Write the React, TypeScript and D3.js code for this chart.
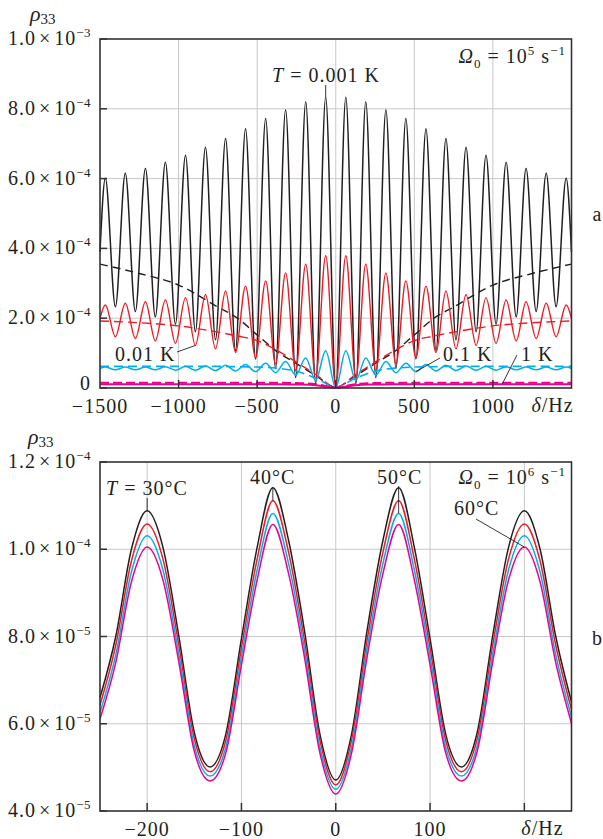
import * as d3 from "d3";

// ---------- panel a: Ω0 = 1e5 s^-1, ρ33 in units of 1e-4 ----------
// detuning of the fringe extrema (Hz), shared by the solid curves
const deltaA = [
  -1500, -1466, -1402, -1339, -1275, -1211, -1148, -1084, -1020, -956, -893, -829, -765,
  -701, -638, -574, -510, -446, -383, -319, -255, -191, -128, -64, 0,
  64, 128, 191, 255, 319, 383, 446, 510, 574, 638, 701, 765, 829, 893, 956,
  1020, 1084, 1148, 1211, 1275, 1339, 1402, 1466, 1500,
];
const rho0001K = [
  3.9, 6.01, 2.33, 6.15, 2.19, 6.29, 2.04, 6.47, 1.83, 6.67, 1.61, 6.9, 1.38,
  7.15, 1.07, 7.43, 0.83, 7.72, 0.56, 7.97, 0.3, 8.2, 0.12, 8.33, 0.02,
  8.33, 0.12, 8.2, 0.3, 7.97, 0.56, 7.72, 0.83, 7.43, 1.07, 7.15, 1.38, 6.9, 1.61, 6.67,
  1.83, 6.47, 2.04, 6.29, 2.19, 6.15, 2.33, 6.01, 3.9,
];
const rho001K = [
  2.0, 2.38, 1.47, 2.43, 1.42, 2.47, 1.35, 2.52, 1.28, 2.59, 1.22, 2.68, 1.12,
  2.78, 1.02, 2.92, 0.87, 3.07, 0.69, 3.3, 0.5, 3.55, 0.28, 3.79, 0.03,
  3.79, 0.28, 3.55, 0.5, 3.3, 0.69, 3.07, 0.87, 2.92, 1.02, 2.78, 1.12, 2.68, 1.22, 2.59,
  1.28, 2.52, 1.35, 2.47, 1.42, 2.43, 1.47, 2.38, 2.0,
];
const rho01K = [
  0.56, 0.6, 0.52, 0.6, 0.52, 0.6, 0.52, 0.61, 0.51, 0.62, 0.51, 0.63, 0.5,
  0.65, 0.49, 0.67, 0.47, 0.71, 0.44, 0.76, 0.37, 0.86, 0.22, 1.07, 0.0,
  1.07, 0.22, 0.86, 0.37, 0.76, 0.44, 0.71, 0.47, 0.67, 0.49, 0.65, 0.5, 0.63, 0.51, 0.62,
  0.51, 0.61, 0.52, 0.6, 0.52, 0.6, 0.52, 0.6, 0.56,
];
// smooth (dashed) averages and the 1 K curve
const deltaAvg = [-1500, -1250, -1000, -750, -625, -500, -375, -250, -125, 0, 125, 250, 375, 500, 625, 750, 1000, 1250, 1500];
const avg0001K = [3.55, 3.28, 2.95, 2.32, 2.0, 1.52, 1.05, 0.7, 0.35, 0.02, 0.35, 0.7, 1.05, 1.52, 2.0, 2.32, 2.95, 3.28, 3.55];
const avg001K = [1.92, 1.87, 1.78, 1.6, 1.49, 1.36, 1.08, 0.74, 0.38, 0.02, 0.38, 0.74, 1.08, 1.36, 1.49, 1.6, 1.78, 1.87, 1.92];
const avg01K = [0.62, 0.62, 0.62, 0.62, 0.61, 0.6, 0.57, 0.48, 0.28, 0.02, 0.28, 0.48, 0.57, 0.6, 0.61, 0.62, 0.62, 0.62, 0.62];
const avg1K = [0.15, 0.15, 0.15, 0.15, 0.15, 0.15, 0.15, 0.14, 0.11, 0.01, 0.11, 0.14, 0.15, 0.15, 0.15, 0.15, 0.15, 0.15, 0.15];
const rho1K = [0.11, 0.11, 0.11, 0.11, 0.11, 0.11, 0.11, 0.1, 0.08, 0.0, 0.08, 0.1, 0.11, 0.11, 0.11, 0.11, 0.11, 0.11, 0.11];

const xTicksA = [-1500, -1000, -500, 0, 500, 1000];
const xGridA = [-1000, -500, 0, 500, 1000];
const yTicksA = [0, 2e-4, 4e-4, 6e-4, 8e-4, 1e-3];
const yMantA = ["0", "2.0", "4.0", "6.0", "8.0", "1.0"];
const yExpA = ["", "−4", "−4", "−4", "−4", "−3"];

// ---------- panel b: Ω0 = 1e6 s^-1, ρ33 in units of 1e-5 ----------
const deltaB = [
  -250, -233.3, -216.7, -200, -183.3, -166.7, -150, -133.3, -116.7, -100, -83.3, -66.7, -50, -33.3, -16.7, 0,
  16.7, 33.3, 50, 66.7, 83.3, 100, 116.7, 133.3, 150, 166.7, 183.3, 200, 216.7, 233.3, 250,
];
const rho30C = [6.6, 8.0, 10.0, 10.88, 10.05, 8.05, 5.8, 5.01, 5.75, 7.95, 10.05, 11.41, 10.2, 8.15, 5.75, 4.71,
  5.75, 8.15, 10.2, 11.41, 10.05, 7.95, 5.75, 5.01, 5.8, 8.05, 10.05, 10.88, 10.0, 8.0, 6.5];
const rho40C = [6.43, 7.8, 9.73, 10.58, 9.78, 7.84, 5.66, 4.9, 5.61, 7.74, 9.78, 11.11, 9.93, 7.93, 5.62, 4.6,
  5.62, 7.93, 9.93, 11.11, 9.78, 7.74, 5.61, 4.9, 5.66, 7.84, 9.78, 10.58, 9.73, 7.8, 6.33];
const rho50C = [6.26, 7.58, 9.48, 10.31, 9.53, 7.63, 5.5, 4.8, 5.45, 7.54, 9.53, 10.82, 9.67, 7.73, 5.45, 4.5,
  5.45, 7.73, 9.67, 10.82, 9.53, 7.54, 5.45, 4.8, 5.5, 7.63, 9.53, 10.31, 9.48, 7.58, 6.16];
const rho60C = [6.11, 7.4, 9.25, 10.05, 9.3, 7.45, 5.37, 4.69, 5.32, 7.35, 9.3, 10.57, 9.44, 7.54, 5.32, 4.39,
  5.32, 7.54, 9.44, 10.57, 9.3, 7.35, 5.32, 4.69, 5.37, 7.45, 9.3, 10.05, 9.25, 7.4, 6.01];

const xTicksB = [-200, -100, 0, 100];
const xGridB = [-200, -100, 0, 100, 200];
const yTicksB = [4e-5, 6e-5, 8e-5, 1e-4, 1.2e-4];
const yMantB = ["4.0", "6.0", "8.0", "1.0", "1.2"];
const yExpB = ["−5", "−5", "−5", "−4", "−4"];

const FONT = "'Liberation Serif', 'Times New Roman', serif";
const INK = "#231f20";
const RED = "#ed1c24";
const CYAN = "#00aeef";
const MAGENTA = "#ec008c";
const GRID = "#c8c8c8";

type Series = { xs: number[]; ys: number[]; unit: number; color: string; dash?: string; width: number };

function Panel({ xDomain, yDomain, top, bottom, xTicks, xGrid, yTicks, yMant, yExp, series, xLabel, children }: any) {
  const left = 100, right = 571.5;
  const x = d3.scaleLinear().domain(xDomain).range([left, right]);
  const y = d3.scaleLinear().domain(yDomain).range([bottom, top]);
  const minus = (v: number) => (v < 0 ? "−" + Math.abs(v) : String(v));

  return (
    <g>
      {/* grid */}
      {xGrid.map((v: number) => (
        <line key={"gx" + v} x1={x(v)} x2={x(v)} y1={top} y2={bottom} stroke={GRID} strokeWidth={1} />
      ))}
      {yTicks.slice(1, -1).map((v: number) => (
        <line key={"gy" + v} x1={left} x2={right} y1={y(v)} y2={y(v)} stroke={GRID} strokeWidth={1} />
      ))}
      {/* curves */}
      {series.map((s: Series, i: number) => {
        const line = d3
          .line<number>()
          .x((_, j) => x(s.xs[j]))
          .y((d) => y(d * s.unit))
          .curve(d3.curveMonotoneX);
        return (
          <path key={i} d={line(s.ys) || ""} fill="none" stroke={s.color} strokeWidth={s.width}
            strokeDasharray={s.dash} strokeLinejoin="round" />
        );
      })}
      {/* frame */}
      <rect x={left} y={top} width={right - left} height={bottom - top} fill="none" stroke="#333" strokeWidth={1.6} />
      {/* ticks */}
      {yTicks.map((v: number) => (
        <line key={"ty" + v} x1={left} x2={left + 7} y1={y(v)} y2={y(v)} stroke="#333" strokeWidth={1.5} />
      ))}
      {xGrid.map((v: number) => (
        <line key={"tx" + v} x1={x(v)} x2={x(v)} y1={bottom} y2={bottom - 8} stroke="#333" strokeWidth={1.5} />
      ))}
      {/* tick labels */}
      {yTicks.map((v: number, i: number) => (
        <text key={"ly" + v} x={91} y={y(v) + (yExp[i] ? 6 : 2)} textAnchor="end" fontSize={20} letterSpacing={1} fill={INK}>
          {yMant[i]}
          {yExp[i] && (
            <>
              <tspan dx={3}>×</tspan>
              <tspan dx={3}>10</tspan>
              <tspan dy={-8} fontSize={13} letterSpacing={0.5}>{yExp[i]}</tspan>
            </>
          )}
        </text>
      ))}
      {xTicks.map((v: number) => (
        <text key={"lx" + v} x={x(v)} y={bottom + 25} textAnchor="middle" fontSize={20} letterSpacing={1} fill={INK}>
          {minus(v)}
        </text>
      ))}
      <text x={x(xLabel) + (xLabel > 1000 ? -40 : -3)} y={bottom + 24} fontSize={20} letterSpacing={1} fill={INK}>
        <tspan fontStyle="italic">δ</tspan>/Hz
      </text>
      {children(x, y)}
    </g>
  );
}

export default function App() {
  const seriesA: Series[] = [
    { xs: deltaA, ys: rho0001K, unit: 1e-4, color: INK, width: 1.5 },
    { xs: deltaAvg, ys: avg0001K, unit: 1e-4, color: INK, width: 1.4, dash: "8,5" },
    { xs: deltaA, ys: rho001K, unit: 1e-4, color: RED, width: 1.4 },
    { xs: deltaAvg, ys: avg001K, unit: 1e-4, color: RED, width: 1.4, dash: "9,5" },
    { xs: deltaAvg, ys: avg01K, unit: 1e-4, color: CYAN, width: 1.6, dash: "9,5" },
    { xs: deltaA, ys: rho01K, unit: 1e-4, color: CYAN, width: 1.5 },
    { xs: deltaAvg, ys: avg1K, unit: 1e-4, color: MAGENTA, width: 2, dash: "9,4" },
    { xs: deltaAvg, ys: rho1K, unit: 1e-4, color: MAGENTA, width: 2 },
  ];
  const seriesB: Series[] = [
    { xs: deltaB, ys: rho30C, unit: 1e-5, color: INK, width: 1.5 },
    { xs: deltaB, ys: rho40C, unit: 1e-5, color: RED, width: 1.5 },
    { xs: deltaB, ys: rho50C, unit: 1e-5, color: CYAN, width: 1.5 },
    { xs: deltaB, ys: rho60C, unit: 1e-5, color: MAGENTA, width: 1.5 },
  ];

  return (
    <svg width={603} height={839} viewBox="0 0 603 839"
      style={{ position: "absolute", left: 0, top: 0, background: "#fff" }}
      fontFamily={FONT}>
      <rect width={603} height={839} fill="#fff" />

      {/* ---------- a ---------- */}
      <text x={30} y={21} fill={INK}>
        <tspan fontStyle="italic" fontSize={22}>ρ</tspan>
        <tspan fontSize={15} dy={3}>33</tspan>
      </text>
      <Panel xDomain={[-1500, 1500]} yDomain={[0, 1e-3]} top={39} bottom={388}
        xTicks={xTicksA} xGrid={xGridA} yTicks={yTicksA} yMant={yMantA} yExp={yExpA}
        series={seriesA} xLabel={1500}>
        {(x: any, y: any) => (
          <g fill={INK} fontSize={20} letterSpacing={1}>
            <text x={272} y={82}>
              <tspan fontStyle="italic">T</tspan> = 0.001 K
            </text>
            <line x1={x(-64)} x2={x(-64)} y1={85} y2={y(8.33e-4)} stroke={INK} strokeWidth={0.9} />
            <text x={566} y={63} textAnchor="end">
              <tspan fontStyle="italic">Ω</tspan>
              <tspan fontSize={13} dy={5}>0</tspan>
              <tspan dy={-5}> = 10</tspan>
              <tspan fontSize={13} dy={-8}>5</tspan>
              <tspan dy={8}> s</tspan>
              <tspan fontSize={13} dy={-8}>−1</tspan>
            </text>
            <text x={115} y={361}>0.01 K</text>
            <line x1={177} y1={352} x2={x(-893)} y2={y(1.22e-4)} stroke={INK} strokeWidth={0.9} />
            <text x={443} y={361}>0.1 K</text>
            <line x1={440} y1={358} x2={x(510)} y2={y(0.47e-4)} stroke={INK} strokeWidth={0.9} />
            <text x={521} y={361}>1 K</text>
            <line x1={517} y1={355} x2={x(1060)} y2={y(0.12e-4)} stroke={INK} strokeWidth={0.9} />
          </g>
        )}
      </Panel>
      <text x={597} y={221} textAnchor="middle" fontSize={20} fill={INK}>a</text>

      {/* ---------- b ---------- */}
      <text x={28} y={444} fill={INK}>
        <tspan fontStyle="italic" fontSize={22}>ρ</tspan>
        <tspan fontSize={15} dy={3}>33</tspan>
      </text>
      <Panel xDomain={[-250, 250]} yDomain={[4e-5, 1.2e-4]} top={462} bottom={811}
        xTicks={xTicksB} xGrid={xGridB} yTicks={yTicksB} yMant={yMantB} yExp={yExpB}
        series={seriesB} xLabel={200}>
        {(x: any, y: any) => (
          <g fill={INK} fontSize={20} letterSpacing={1}>
            <text x={106} y={495}>
              <tspan fontStyle="italic">T</tspan> = 30°C
            </text>
            <line x1={x(-200)} x2={x(-200)} y1={498} y2={y(10.88e-5)} stroke={INK} strokeWidth={0.9} />
            <text x={250} y={484}>40°C</text>
            <line x1={x(-66.7)} x2={x(-66.7)} y1={487} y2={y(11.11e-5)} stroke={INK} strokeWidth={0.9} />
            <text x={377} y={484}>50°C</text>
            <line x1={x(66.7)} x2={x(66.7)} y1={486} y2={y(10.82e-5)} stroke={INK} strokeWidth={0.9} />
            <text x={566} y={484} textAnchor="end">
              <tspan fontStyle="italic">Ω</tspan>
              <tspan fontSize={13} dy={5}>0</tspan>
              <tspan dy={-5}> = 10</tspan>
              <tspan fontSize={13} dy={-8}>6</tspan>
              <tspan dy={8}> s</tspan>
              <tspan fontSize={13} dy={-8}>−1</tspan>
            </text>
            <text x={454} y={515}>60°C</text>
            <line x1={476} y1={519} x2={x(200)} y2={y(10.05e-5)} stroke={INK} strokeWidth={0.9} />
          </g>
        )}
      </Panel>
      <text x={597} y={645} textAnchor="middle" fontSize={20} fill={INK}>b</text>
    </svg>
  );
}
